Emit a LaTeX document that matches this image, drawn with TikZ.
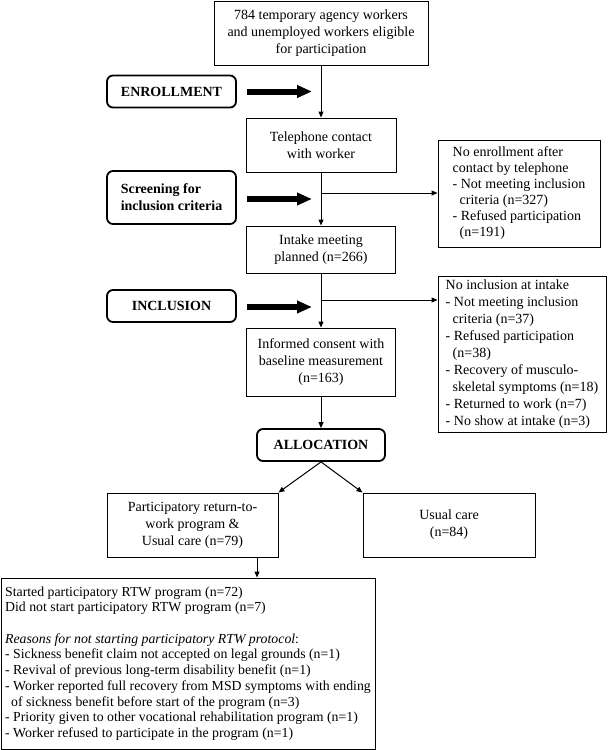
\documentclass[tikz,border=0pt]{standalone}
\usepackage{fontspec}
\setmainfont{Liberation Serif}
\usetikzlibrary{arrows.meta,calc}
\begin{document}
\begin{tikzpicture}[x=1pt,y=-1pt,
  box/.style={draw,line width=1pt,inner sep=0pt,font=\fontsize{14}{17}\selectfont,align=center},
  phase/.style={draw,line width=1.8pt,rounded corners=6pt,inner sep=0pt,font=\fontsize{14}{17}\selectfont\bfseries,align=center},
  con/.style={line width=1pt,-{Triangle[length=6pt,width=5pt]}},
  bigarrow/.style={line width=6pt,-{Triangle[length=15pt,width=12pt]}}]
\useasboundingbox (0,0) rectangle (611,750);
% main column
\node[box,minimum width=214pt,minimum height=64pt] (b1) at (321,33)
  {784 temporary agency workers\\and unemployed workers eligible\\for participation};
\node[box,minimum width=150pt,minimum height=54pt] (b2) at (321,145)
  {Telephone contact\\with worker};
\node[box,minimum width=149pt,minimum height=47pt] (b4) at (321,249.5)
  {Intake meeting\\planned (n=266)};
\node[box,minimum width=149pt,minimum height=68pt] (b6) at (321,362)
  {Informed consent with\\baseline measurement\\(n=163)};
\node[phase,minimum width=128pt,minimum height=32pt] (alloc) at (321,445) {ALLOCATION};
% phase labels
\node[phase,minimum width=129pt,minimum height=32pt] (enroll) at (171.5,91.5) {ENROLLMENT};
\node[phase,minimum width=129pt,minimum height=53pt,align=left] (screen) at (171.5,197.5)
  {Screening for\\inclusion criteria};
\node[phase,minimum width=129pt,minimum height=32pt] (incl) at (171.5,306) {INCLUSION};
% exclusion boxes
\node[box,minimum width=162pt,minimum height=107pt,align=left,font=\fontsize{14}{16}\selectfont] (b3) at (519,193.5)
  {No enrollment after\\contact by telephone\\- Not meeting inclusion\\\hspace*{7pt}criteria (n=327)\\- Refused participation\\\hspace*{7pt}(n=191)};
\node[box,minimum width=168pt,minimum height=156pt,align=left] (b5) at (522,354)
  {No inclusion at intake\\- Not meeting inclusion\\\hspace*{7pt}criteria (n=37)\\- Refused participation\\\hspace*{7pt}(n=38)\\- Recovery of musculo-\\\hspace*{7pt}skeletal symptoms (n=18)\\- Returned to work (n=7)\\- No show at intake (n=3)};
% allocation boxes
\node[box,minimum width=171pt,minimum height=64pt] (b7) at (192.5,525)
  {Participatory return-to-\\work program \&\\Usual care (n=79)};
\node[box,minimum width=172pt,minimum height=64pt] (b8) at (449,525)
  {Usual care\\(n=84)};
\node[box,minimum width=374pt,minimum height=171pt,align=left,font=\fontsize{13.8}{15.7}\selectfont] (b9) at (188,663.5)
  {Started participatory RTW program (n=72)\\
   Did not start participatory RTW program (n=7)\\[15.7pt]
   \textit{Reasons for not starting participatory RTW protocol}:\\
   - Sickness benefit claim not accepted on legal grounds (n=1)\\
   - Revival of previous long-term disability benefit (n=1)\\
   - Worker reported full recovery from MSD symptoms with ending\\
   \hspace*{6pt}of sickness benefit before start of the program (n=3)\\
   - Priority given to other vocational rehabilitation program (n=1)\\
   - Worker refused to participate in the program (n=1)};
% coordinates
\coordinate (j1) at (321,193);
\coordinate (j2) at (321,300);
\coordinate (ea) at (312,91.5);
\coordinate (eb) at (312,199);
\coordinate (ec) at (312,307);
\coordinate (j3) at (257,557);
% connectors
\draw[con] (b1.south) -- (b2.north);
\draw[con] (b2.south) -- (b4.north);
\draw[con] (j1) -- (j1 -| b3.west);
\draw[con] (b4.south) -- (b6.north);
\draw[con] (j2) -- (j2 -| b5.west);
\draw[con] (b6.south) -- (alloc.north);
\draw[con] (alloc.south) -- (b7.north east);
\draw[con] (alloc.south) -- (b8.north west);
\draw[con] (j3) -- (j3 |- b9.north);
% thick arrows
\draw[bigarrow] ([xshift=10pt]enroll.east |- ea) -- (ea);
\draw[bigarrow] ([xshift=10pt]screen.east |- eb) -- (eb);
\draw[bigarrow] ([xshift=10pt]incl.east |- ec) -- (ec);
\end{tikzpicture}
\end{document}
